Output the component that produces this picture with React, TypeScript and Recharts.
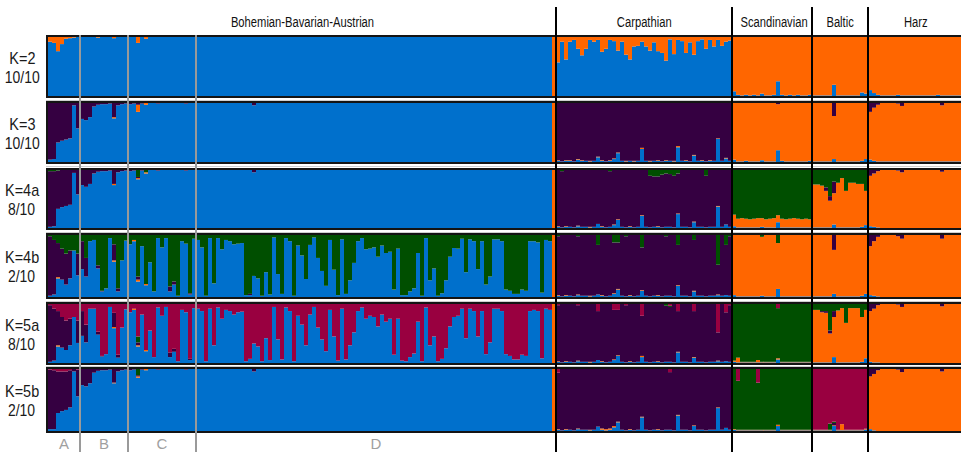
import React from 'react';
import { BarChart, Bar, XAxis, YAxis } from 'recharts';

const Z = (n: number): number[] => new Array(n).fill(0);

// ---------- categories ----------
const POPULATIONS = ['Bohemian-Bavarian-Austrian', 'Carpathian', 'Scandinavian', 'Baltic', 'Harz'];
const POP_SIZES = [127, 44, 20, 14, 24];
const SUBGROUPS = ['A', 'B', 'C', 'D'];
const SUBGROUP_SIZES = [8, 12, 17, 90];
const K_LABELS = ['K=2', 'K=3', 'K=4a', 'K=4b', 'K=5a', 'K=5b'];
const RUN_LABELS = ['10/10', '10/10', '8/10', '2/10', '8/10', '2/10'];

// stacking order bottom -> top
const CLUSTERS = ['blue', 'orange', 'purple', 'green', 'crimson'];
const COLORS: Record<string, string> = {
  blue: '#0070CC',
  orange: '#FF6600',
  purple: '#350041',
  green: '#004F00',
  crimson: '#990040',
};

// ---------- K=2 ----------
const K2_DOM = ['blue', 'blue', 'orange', 'orange', 'orange'];
const K2_BLUE = [
  ...Z(127),
  ...Z(44),
  8, 2, 1, 2, 1, 2, 1, 4, 1, 1, 2, 25, 2, 1, 2, 1, 2, 1, 1, 2,
  1, 1, 1, 1, 1, 19, 1, 1, 1, 1, 1, 1, 6, 4,
  10, 5, 2, 1, 1, 1, 1, 2, 1, 1, 1, 1, 1, 1, 1, 1, 1, 2, 1, 1, 1, 1, 1, 1,
];
const K2_ORANGE = [
  8, 10, 24, 12, 3, 2, 1, 0,
  0, 0, 0, 0, 1, 0, 0, 0, 2, 0, 0, 0, 0,
  0, 10, 0, 3, ...Z(13),
  ...Z(88), 100,
  43, 8, 38, 8, 5, 20, 31, 20, 5, 8, 5, 25, 20, 5, 7, 23, 8, 30, 38, 16, 15, 8, 16, 23, 9, 24, 27, 40, 4, 29,
  5, 7, 27, 9, 30, 7, 4, 20, 5, 16, 5, 15, 8, 6,
  ...Z(58),
];

// ---------- K=3 ----------
const K3_DOM = ['blue', 'purple', 'orange', 'orange', 'orange'];
const K3_BLUE = [
  ...Z(127),
  2, 1, 2, 2, 1, 4, 2, 2, 1, 2, 8, 2, 1, 2, 5, 15, 2, 1, 2, 1, 2, 22, 2, 1, 2, 2, 1, 2, 2, 1,
  25, 2, 2, 1, 11, 2, 2, 1, 2, 2, 39, 2, 6, 2,
  4, 1, 1, 2, 1, 1, 1, 3, 1, 1, 1, 20, 2, 1, 1, 1, 1, 1, 1, 2,
  1, 1, 1, 1, 1, 5, 1, 1, 1, 1, 1, 1, 2, 5,
  4, 2, 1, 1, 1, 1, 1, 1, 1, 1, 1, 1, 1, 1, 1, 1, 1, 1, 1, 1, 1, 1, 1, 1,
];
const K3_ORANGE = [
  ...Z(8),
  0, 0, 0, 0, 0, 0, 0, 0, 2, 0, 0, 0, 0,
  0, 12, 0, 3, ...Z(13),
  ...Z(88), 100,
  1, 0, 1, 1, 0, 1, 1, 0, 1, 0, 1, 1, 0, 1, 1, 1, 0, 1, 0, 1, 0, 2, 0, 1, 0, 1, 0, 1, 0, 1,
  2, 0, 1, 0, 1, 0, 1, 0, 1, 0, 1, 0, 1, 0,
  ...Z(58),
];
const K3_PURPLE = [
  96, 95, 67, 64, 62, 60, 4, 43,
  27, 29, 24, 6, 3, 2, 2, 1, 24, 4, 2, 1, 2,
  1, 3, 1, 0, 0, 0, 1, 0, 0, 0, 0, 0, 0, 1, 0, 0, 0,
  ...Z(13), 4, ...Z(75),
  ...Z(44),
  0, 0, 0, 0, 0, 0, 0, 0, 0, 0, 0, 2, 0, 0, 0, 0, 0, 0, 0, 0,
  0, 0, 0, 0, 0, 22, 0, 0, 0, 0, 0, 0, 0, 0,
  15, 8, 3, 0, 0, 0, 0, 1, 5, 0, 0, 0, 0, 0, 0, 0, 0, 0, 4, 0, 0, 0, 0, 0,
];

// ---------- K=4a ----------
const K4A_DOM = ['blue', 'purple', 'green', 'orange', 'orange'];
const K4A_BLUE = [
  ...Z(127),
  2, 1, 2, 2, 1, 3, 2, 2, 1, 2, 7, 2, 1, 2, 5, 14, 2, 1, 2, 1, 2, 21, 2, 1, 2, 2, 1, 2, 2, 1,
  24, 2, 2, 1, 10, 2, 2, 1, 2, 2, 37, 2, 6, 2,
  3, 1, 1, 1, 1, 1, 1, 2, 1, 1, 1, 10, 1, 1, 1, 1, 1, 1, 1, 1,
  1, 1, 1, 1, 1, 6, 1, 1, 1, 1, 1, 1, 2, 5,
  3, 2, 1, ...Z(21),
];
const K4A_ORANGE = [
  ...Z(8),
  0, 0, 0, 0, 0, 0, 0, 0, 2, 0, 0, 0, 0,
  0, 2, 0, 2, ...Z(13),
  ...Z(88), 100,
  1, 0, 1, 0, 0, 1, 0, 0, 1, 0, 0, 1, 0, 0, 1, 1, 0, 0, 1, 0, 0, 1, 0, 0, 0, 1, 0, 0, 0, 0,
  1, 0, 0, 0, 1, 0, 0, 0, 0, 0, 1, 0, 0, 0,
  20, 15, 16, 15, 14, 15, 16, 15, 14, 15, 16, 12, 15, 14, 15, 16, 15, 14, 15, 14,
  ...Z(38),
];
const K4A_PURPLE = [
  96, 95, 66, 64, 62, 60, 5, 42,
  26, 29, 24, 6, 3, 2, 2, 1, 24, 4, 2, 1, 2,
  1, 2, 1, 0, 0, 0, 1, 0, 0, 0, 0, 0, 0, 1, 0, 0, 0,
  ...Z(13), 4, ...Z(75),
  ...Z(44),
  ...Z(20),
  0, 0, 0, 6, 8, 20, 0, 0, 0, 0, 0, 0, 0, 0,
  10, 6, 2, 0, 0, 0, 0, 1, 4, 0, 0, 0, 0, 0, 0, 0, 0, 0, 3, 0, 0, 0, 0, 0,
];
const K4A_GREEN = [
  2, 2, 1, 0, 0, 0, 0, 0,
  ...Z(13),
  0, 12, 0, 4, ...Z(13),
  ...Z(89),
  0, 2, 0, 0, 0, 0, 0, 0, 0, 0, 0, 0, 0, 2, 0, 0, 0, 0, 0, 0, 0, 0, 0, 10, 11, 11, 8, 6, 7, 10,
  6, 0, 0, 0, 0, 0, 0, 10, 0, 0, 0, 0, 0, 0,
  ...Z(20),
  25, 25, 27, 30, 45, 20, 22, 14, 36, 22, 22, 24, 24, 36,
  ...Z(24),
];

// ---------- K=4b ----------
const K4B_DOM = ['blue', 'purple', 'orange', 'orange', 'orange'];
const K4B_BLUE = [
  ...Z(127),
  2, 1, 2, 2, 1, 3, 2, 2, 1, 2, 4, 2, 1, 2, 5, 12, 2, 1, 2, 1, 2, 10, 2, 1, 2, 2, 1, 2, 2, 1,
  18, 2, 2, 1, 9, 2, 2, 1, 2, 2, 3, 2, 3, 2,
  3, 1, 1, 1, 1, 1, 1, 2, 1, 1, 1, 13, 1, 1, 1, 1, 1, 1, 1, 1,
  1, 1, 1, 1, 1, 5, 1, 1, 1, 1, 1, 1, 2, 5,
  3, 2, 1, ...Z(21),
];
const K4B_ORANGE = [
  0, 0, 2, 0, 0, 0, 0, 0,
  0, 0, 0, 0, 0, 0, 0, 0, 2, 0, 0, 0, 0,
  2, 3, 0, 2, ...Z(13),
  ...Z(88), 100,
  1, 0, 1, 0, 0, 1, 0, 0, 1, 0, 0, 1, 0, 0, 1, 1, 0, 0, 1, 0, 0, 1, 0, 0, 0, 1, 0, 0, 0, 0,
  1, 0, 0, 0, 1, 0, 0, 0, 0, 0, 1, 0, 0, 0,
  ...Z(58),
];
const K4B_PURPLE = [
  96, 88, 55, 50, 50, 45, 0, 35,
  45, 30, 0, 0, 5, 1, 0, 0, 26, 5, 0, 0, 0,
  0, 5, 0, 0, 0, 0, 0, 0, 0, 8, 5, 0, 0, 0, 2, 0, 0,
  ...Z(12), 2, ...Z(76),
  ...Z(44),
  ...Z(20),
  0, 0, 0, 0, 0, 24, 0, 0, 0, 0, 0, 0, 0, 0,
  18, 10, 3, 0, 0, 0, 0, 2, 6, 0, 0, 0, 0, 0, 0, 0, 0, 0, 6, 0, 0, 0, 0, 0,
];
const K4B_GREEN = [
  2, 8, 13, 22, 30, 25, 25, 30,
  10, 37, 10, 8, 49, 90, 86, 5, 15, 86, 41, 9, 15,
  8, 67, 18, 79, 44, 91, 5, 20, 5, 83, 75, 98, 10, 14, 94, 6, 8,
  20, 98, 5, 78, 5, 23, 8, 10, 15, 14,
  13, 97, 95, 66, 70, 98, 60, 96, 4, 63,
  95, 5, 10, 98, 17, 33, 71, 16, 4, 37,
  58, 82, 8, 56, 97, 7, 95, 73, 45, 10,
  5, 23, 22, 20, 35, 17, 29, 27, 88, 22,
  97, 97, 91, 86, 29, 98, 5, 73, 54, 98,
  94, 73, 35, 21, 22, 6, 60, 7, 10, 55,
  10, 80, 67, 7, 7, 10, 88, 90, 95, 95,
  88, 90, 10, 10, 12, 93, 8, 10, 0,
  2, 0, 0, 0, 0, 2, 0, 0, 0, 0, 16, 0, 0, 0, 12, 12, 0, 2, 0, 0, 0, 20, 0, 0, 0, 0, 0, 2, 0, 0,
  16, 0, 0, 0, 8, 0, 0, 0, 0, 0, 48, 0, 16, 2,
  0, 0, 0, 0, 0, 0, 0, 3, 0, 0, 0, 13, 0, 0, 0, 0, 0, 0, 0, 0,
  ...Z(14),
  ...Z(24),
];

// ---------- K=5a ----------
const K5A_DOM = ['blue', 'purple', 'green', 'orange', 'orange'];
const K5A_BLUE = [
  ...Z(127),
  2, 1, 2, 2, 1, 3, 2, 2, 1, 2, 5, 2, 1, 2, 5, 12, 2, 1, 2, 1, 2, 10, 2, 1, 2, 2, 1, 2, 2, 1,
  18, 2, 2, 1, 9, 2, 2, 1, 2, 2, 3, 2, 3, 2,
  2, 1, 1, 1, 1, 1, 1, 1, 1, 1, 1, 6, 1, 1, 1, 1, 1, 1, 1, 1,
  1, 1, 1, 1, 1, 10, 1, 1, 1, 1, 1, 1, 2, 8,
  2, 1, 1, ...Z(21),
];
const K5A_ORANGE = [
  0, 0, 2, 0, 0, 0, 0, 0,
  ...Z(8), 2, ...Z(4),
  2, 2, 0, 2, ...Z(13),
  ...Z(88), 100,
  1, 0, 1, 0, 0, 1, 0, 0, 1, 0, 0, 1, 0, 0, 1, 1, 0, 0, 1, 0, 0, 2, 0, 0, 0, 1, 0, 0, 0, 0,
  1, 0, 0, 0, 1, 0, 0, 0, 0, 0, 1, 0, 0, 0,
  2, 8, 1, 1, 1, 1, 4, 1, 1, 1, 1, 2, 1, 1, 1, 1, 1, 1, 1, 1,
  ...Z(38),
];
const K5A_PURPLE = [
  96, 88, 58, 52, 50, 45, 0, 38,
  42, 30, 0, 0, 5, 1, 0, 0, 24, 5, 0, 0, 0,
  0, 5, 0, 0, 0, 0, 0, 0, 0, 8, 5, 0, 0, 0, 2, 0, 0,
  ...Z(89),
  ...Z(44),
  ...Z(20),
  0, 0, 2, 3, 5, 10, 0, 0, 0, 0, 0, 0, 0, 0,
  12, 8, 2, 0, 0, 0, 0, 1, 5, 0, 0, 0, 0, 0, 0, 0, 0, 0, 4, 0, 0, 0, 0, 0,
];
const K5A_GREEN = [
  ...Z(8),
  ...Z(13),
  0, 10, ...Z(15),
  ...Z(89),
  ...Z(27), 3, 2, ...Z(15),
  ...Z(20),
  10, 10, 12, 12, 45, 12, 11, 7, 32, 7, 7, 7, 22, 10,
  ...Z(24),
];
const K5A_CRIMSON = [
  2, 8, 12, 22, 28, 25, 22, 28,
  12, 35, 8, 8, 47, 88, 85, 5, 15, 86, 40, 9, 14,
  8, 55, 18, 78, 45, 90, 6, 20, 5, 82, 76, 97, 10, 14, 93, 7, 8,
  12, 97, 8, 70, 6, 25, 10, 12, 18, 14,
  13, 97, 93, 67, 72, 97, 58, 95, 5, 60,
  94, 6, 12, 97, 20, 35, 70, 18, 5, 40,
  60, 80, 10, 55, 96, 8, 94, 70, 48, 12,
  6, 25, 20, 22, 38, 18, 30, 25, 86, 25,
  96, 97, 90, 84, 30, 97, 6, 70, 55, 97,
  93, 75, 38, 22, 20, 8, 58, 8, 12, 55,
  12, 85, 65, 8, 8, 12, 85, 88, 94, 94,
  86, 88, 12, 10, 12, 92, 8, 10, 0,
  2, 0, 0, 0, 0, 2, 0, 0, 0, 0, 12, 0, 0, 0, 10, 10, 0, 2, 0, 0, 0, 20, 0, 0, 0, 0, 0, 0, 3, 0,
  12, 0, 0, 0, 12, 0, 0, 0, 0, 0, 48, 0, 14, 2,
  ...Z(11), 7, ...Z(8),
  ...Z(14),
  ...Z(24),
];

// ---------- K=5b ----------
const K5B_DOM = ['blue', 'purple', 'green', 'crimson', 'orange'];
const K5B_BLUE = [
  ...Z(127),
  2, 1, 2, 2, 1, 3, 2, 2, 1, 2, 7, 2, 1, 2, 6, 14, 2, 1, 2, 1, 2, 22, 2, 1, 2, 2, 1, 2, 2, 1,
  25, 2, 2, 1, 8, 2, 2, 1, 2, 2, 37, 2, 5, 2,
  2, 1, 1, 1, 1, 1, 1, 1, 1, 1, 1, 8, 1, 1, 1, 1, 1, 1, 1, 1,
  1, 1, 1, 1, 1, 8, 1, 1, 1, 1, 1, 1, 1, 2,
  3, 1, ...Z(22),
];
const K5B_ORANGE = [
  ...Z(8),
  ...Z(8), 1, ...Z(4),
  0, 2, 0, 2, ...Z(13),
  ...Z(88), 100,
  1, 0, 1, 0, 0, 1, 0, 0, 1, 0, 0, 2, 2, 2, 2, 1, 0, 0, 1, 0, 0, 1, 0, 0, 0, 1, 0, 0, 0, 0,
  1, 0, 0, 0, 1, 0, 0, 0, 0, 0, 1, 0, 0, 0,
  1, 1, 1, 1, 1, 1, 1, 1, 1, 1, 1, 2, 1, 1, 1, 1, 1, 1, 1, 1,
  1, 1, 1, 1, 1, 1, 1, 10, 1, 1, 1, 1, 1, 1,
  ...Z(24),
];
const K5B_PURPLE = [
  96, 95, 67, 64, 62, 60, 4, 43,
  26, 28, 23, 6, 3, 2, 2, 1, 22, 4, 2, 1, 2,
  1, 2, 1, 0, 0, 0, 1, 0, 0, 0, 0, 0, 0, 1, 0, 0, 0,
  ...Z(13), 4, ...Z(75),
  ...Z(44),
  ...Z(20),
  0, 0, 0, 0, 0, 4, 0, 0, 0, 0, 0, 0, 0, 1,
  12, 8, 2, 0, 0, 0, 0, 1, 5, 0, 0, 0, 0, 0, 0, 0, 0, 0, 4, 0, 0, 0, 0, 0,
];
const K5B_GREEN = [
  ...Z(8),
  ...Z(13),
  0, 10, ...Z(15),
  ...Z(89),
  ...Z(44),
  ...Z(20),
  0, 0, 0, 0, 10, 2, 0, 0, 0, 0, 0, 0, 0, 0,
  ...Z(24),
];
const K5B_CRIMSON = [
  1, 2, 4, 4, 4, 2, 0, 1,
  ...Z(13),
  ...Z(17),
  ...Z(89),
  6, ...Z(27), 5, ...Z(15),
  0, 19, 0, 0, 0, 0, 22, 0, 0, 0, ...Z(10),
  ...Z(14),
  ...Z(24),
];

// ---------- assembly ----------
type PanelDef = { k: string; runs: string; dom: string[]; q: Record<string, number[]> };
const PANELS: PanelDef[] = [
  { k: K_LABELS[0], runs: RUN_LABELS[0], dom: K2_DOM, q: { blue: K2_BLUE, orange: K2_ORANGE } },
  { k: K_LABELS[1], runs: RUN_LABELS[1], dom: K3_DOM, q: { blue: K3_BLUE, orange: K3_ORANGE, purple: K3_PURPLE } },
  { k: K_LABELS[2], runs: RUN_LABELS[2], dom: K4A_DOM, q: { blue: K4A_BLUE, orange: K4A_ORANGE, purple: K4A_PURPLE, green: K4A_GREEN } },
  { k: K_LABELS[3], runs: RUN_LABELS[3], dom: K4B_DOM, q: { blue: K4B_BLUE, orange: K4B_ORANGE, purple: K4B_PURPLE, green: K4B_GREEN } },
  { k: K_LABELS[4], runs: RUN_LABELS[4], dom: K5A_DOM, q: { blue: K5A_BLUE, orange: K5A_ORANGE, purple: K5A_PURPLE, green: K5A_GREEN, crimson: K5A_CRIMSON } },
  { k: K_LABELS[5], runs: RUN_LABELS[5], dom: K5B_DOM, q: { blue: K5B_BLUE, orange: K5B_ORANGE, purple: K5B_PURPLE, green: K5B_GREEN, crimson: K5B_CRIMSON } },
];

const TOTAL = POP_SIZES.reduce((a, b) => a + b, 0);
const POP_OF: number[] = [];
POP_SIZES.forEach((n, p) => {
  for (let j = 0; j < n; j++) POP_OF.push(p);
});

function buildRows(panel: PanelDef) {
  const rows: Record<string, number>[] = [];
  for (let i = 0; i < TOTAL; i++) {
    const dom = panel.dom[POP_OF[i]];
    const row: Record<string, number> = { id: i };
    let sum = 0;
    for (const c of CLUSTERS) {
      if (c === dom) continue;
      const arr = panel.q[c];
      if (!arr) continue;
      const v = arr[i] || 0;
      row[c] = v;
      sum += v;
    }
    row[dom] = Math.max(0, 100 - sum);
    rows.push(row);
  }
  return rows;
}

const ROWS = PANELS.map(buildRows);

// ---------- layout ----------
const W = 961;
const H = 452;
const PLOT_LEFT = 48;
const BAND = 4; // integer band width keeps the bars seamless
const PLOT_W = BAND * TOTAL;
const PANEL_TOPS = [35, 101, 168, 233, 302, 367];
const PANEL_HEIGHTS = [63, 63, 62, 66, 63, 66];
const FONT = '"Liberation Sans", Arial, sans-serif';

const xAt = (count: number) => PLOT_LEFT + (PLOT_W * count) / TOTAL;
const cumulative = (sizes: number[]) => {
  const out: number[] = [0];
  sizes.forEach((s) => out.push(out[out.length - 1] + s));
  return out;
};
const POP_CUM = cumulative(POP_SIZES);
const SUB_CUM = cumulative(SUBGROUP_SIZES);

const narrow = (scale: number): React.CSSProperties => ({
  display: 'inline-block',
  transform: `scaleX(${scale})`,
  transformOrigin: 'center',
  whiteSpace: 'nowrap',
});

export default function App() {
  const problems: string[] = [];
  PANELS.forEach((p) =>
    Object.entries(p.q).forEach(([c, arr]) => {
      if (arr.length !== TOTAL) problems.push(`${p.k} ${c}: ${arr.length}`);
    })
  );

  return (
    <div
      style={{
        position: 'absolute',
        left: 0,
        top: 0,
        width: W,
        height: H,
        overflow: 'hidden',
        background: '#ffffff',
        fontFamily: FONT,
      }}
    >
      {/* population titles */}
      {POPULATIONS.map((name, p) => (
        <div
          key={name}
          style={{
            position: 'absolute',
            left: xAt(POP_CUM[p]),
            width: Math.min(xAt(POP_CUM[p + 1]), W + 6) - xAt(POP_CUM[p]),
            top: 14,
            height: 16,
            lineHeight: '16px',
            fontSize: 14,
            textAlign: 'center',
            color: '#111',
          }}
        >
          <span style={narrow(0.8)}>{name}</span>
        </div>
      ))}

      {/* panels */}
      {PANELS.map((p, k) => {
        const used = CLUSTERS.filter((c) => p.q[c] || p.dom.includes(c));
        const top = PANEL_TOPS[k];
        const h = PANEL_HEIGHTS[k];
        const mid = top + h / 2;
        return (
          <React.Fragment key={p.k}>
            <div
              style={{
                position: 'absolute',
                left: 0,
                width: PLOT_LEFT - 4,
                top: mid - 18,
                height: 19,
                fontSize: 17,
                lineHeight: '19px',
                textAlign: 'center',
                color: '#1a1a1a',
              }}
            >
              <span style={narrow(0.85)}>{p.k}</span>
            </div>
            <div
              style={{
                position: 'absolute',
                left: 0,
                width: PLOT_LEFT - 4,
                top: mid + 1,
                height: 19,
                fontSize: 17,
                lineHeight: '19px',
                textAlign: 'center',
                color: '#1a1a1a',
              }}
            >
              <span style={narrow(0.82)}>{p.runs}</span>
            </div>
            <div
              style={{
                position: 'absolute',
                left: PLOT_LEFT - 2,
                top,
                width: PLOT_W + 2,
                height: h,
                border: '2px solid #141414',
                borderRight: 'none',
                boxSizing: 'border-box',
                background: '#fff',
              }}
            >
              <BarChart
                width={PLOT_W}
                height={h - 4}
                data={ROWS[k]}
                margin={{ top: 0, right: 0, bottom: 0, left: 0 }}
                barCategoryGap={0}
                barGap={0}
              >
                <XAxis dataKey="id" hide />
                <YAxis hide type="number" domain={[0, 100]} />
                {used.map((c) => (
                  <Bar key={c} dataKey={c} stackId="q" fill={COLORS[c]} isAnimationActive={false} />
                ))}
              </BarChart>
            </div>
          </React.Fragment>
        );
      })}

      {/* faint separators between panels */}
      {PANEL_TOPS.slice(0, -1).map((t, k) => (
        <div
          key={'gap' + k}
          style={{
            position: 'absolute',
            left: PLOT_LEFT - 2,
            width: W,
            top: Math.round((t + PANEL_HEIGHTS[k] + PANEL_TOPS[k + 1]) / 2),
            height: 1,
            background: '#cfcfcf',
          }}
        />
      ))}

      {/* subgroup (grey) lines */}
      {SUB_CUM.slice(1, -1).map((c, j) => (
        <div
          key={'sub' + j}
          style={{
            position: 'absolute',
            left: xAt(c) - 1,
            width: 1.5,
            top: PANEL_TOPS[0],
            height: H - PANEL_TOPS[0],
            background: '#9a9a9a',
          }}
        />
      ))}

      {/* population (black) lines */}
      {POP_CUM.slice(1, -1).map((c, j) => (
        <div
          key={'pop' + j}
          style={{
            position: 'absolute',
            left: xAt(c) - 1,
            width: 2,
            top: 7,
            height: H - 7,
            background: '#000',
          }}
        />
      ))}

      {/* subgroup labels */}
      {SUBGROUPS.map((s, j) => (
        <div
          key={'lab' + s}
          style={{
            position: 'absolute',
            left: xAt(SUB_CUM[j]),
            width: xAt(SUB_CUM[j + 1]) - xAt(SUB_CUM[j]),
            top: 435,
            height: 17,
            lineHeight: '17px',
            fontSize: 15,
            textAlign: 'center',
            color: '#a0a0a0',
          }}
        >
          {s}
        </div>
      ))}

      {problems.length > 0 && (
        <div style={{ position: 'absolute', left: 60, top: 60, color: 'red', background: '#fff', fontSize: 14 }}>
          {problems.join(' | ')}
        </div>
      )}
    </div>
  );
}
